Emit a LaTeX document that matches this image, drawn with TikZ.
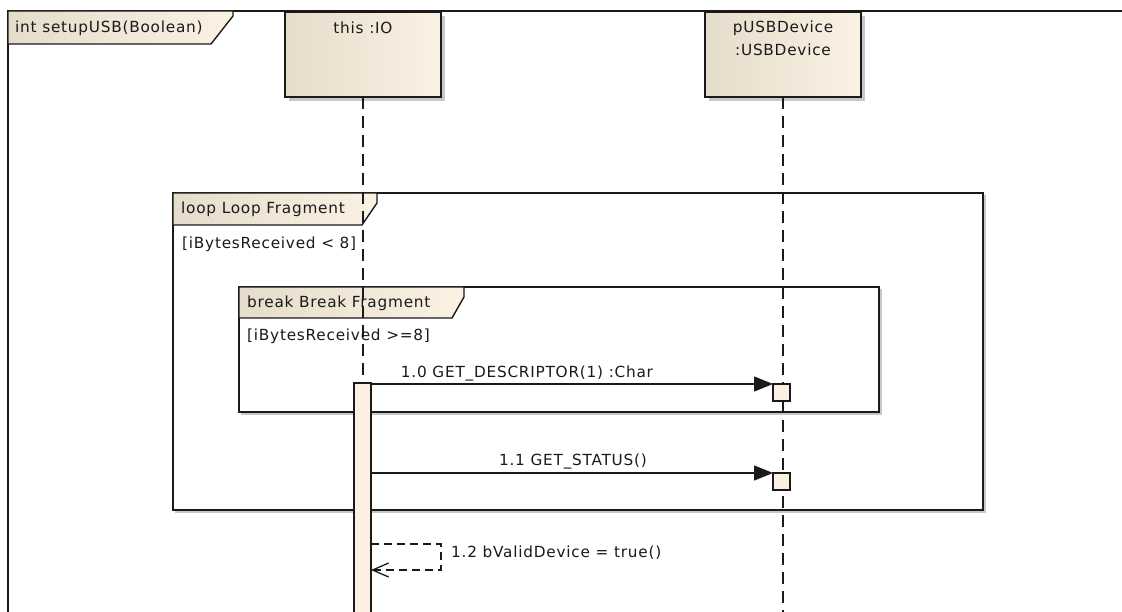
\documentclass[tikz,border=0pt]{standalone}
\usepackage{fontspec}
\setmainfont[LetterSpace=5]{DejaVu Sans}
\usetikzlibrary{arrows.meta}
\definecolor{beigeL}{HTML}{E6DCCB}
\definecolor{beigeR}{HTML}{FBF2E4}
\definecolor{barfill}{HTML}{FBF0E1}
\definecolor{ink}{HTML}{1A1A1A}
\definecolor{shadowgray}{HTML}{C8C8C8}
\begin{document}
\begin{tikzpicture}[x=1pt,y=-1pt,
  txt/.style={font=\fontsize{15.3}{18}\selectfont, text=ink, inner sep=0pt},
  frameline/.style={draw=ink, line width=1.5pt},
  frag/.style={draw=ink, line width=1.7pt, inner sep=0pt, outer sep=0pt},
  tab/.style={draw=ink, line width=1.4pt, left color=beigeL, right color=beigeR},
  head/.style={draw=ink, line width=1.6pt, left color=beigeL, right color=beigeR, inner sep=0pt, outer sep=0pt},
  lifeline/.style={draw=ink, line width=1.7pt, dash pattern=on 12pt off 7pt},
  actbar/.style={draw=ink, line width=1.4pt, fill=barfill, inner sep=0pt, outer sep=0pt},
  sqbox/.style={draw=ink, line width=1.4pt, fill=barfill, inner sep=0pt, outer sep=0pt, minimum size=17pt},
  msg/.style={draw=ink, line width=1.3pt, -{Triangle[length=19pt,width=15pt]}},
  selfmsg/.style={draw=ink, line width=1.3pt, dash pattern=on 8pt off 5pt, -{Straight Barb[length=16pt,width=14pt]}},
  shadowline/.style={draw=shadowgray, line width=1.3pt}
]
\useasboundingbox (0,0) rectangle (1122,612);
\fill[white] (0,0) rectangle (1122,612);

% outer frame
\coordinate (frTL) at (8,11);
\coordinate (frTR) at (1122,11);
\coordinate (frBL) at (8,612);
\draw[frameline] (frTR) -- (frTL) -- (frBL);
\draw[tab] (8,11) -- (233,11) -- (233,16) -- (211,44) -- (8,44) -- cycle;
\node[txt, anchor=west] (frtitle) at (15,28) {int setupUSB(Boolean)};

% loop fragment
\draw[shadowline] (985,195) -- (985,512) -- (175,512);
\node[frag, minimum width=810pt, minimum height=317pt, anchor=north west] (loop) at (173,193) {};
\draw[tab] (173,193) -- (377,193) -- (377,203) -- (362,225) -- (173,225) -- cycle;
\node[txt, anchor=west] (looplbl) at (181,209) {loop Loop Fragment};
\node[txt, anchor=west] (loopguard) at (182,244) {[iBytesReceived < 8]};

% break fragment
\draw[shadowline] (881,289) -- (881,414) -- (241,414);
\node[frag, minimum width=640pt, minimum height=125pt, anchor=north west] (brk) at (239,287) {};
\draw[tab] (239,287) -- (464,287) -- (464,297) -- (452,318) -- (239,318) -- cycle;
\node[txt, anchor=west] (brklbl) at (247,303) {break Break Fragment};
\node[txt, anchor=west] (brkguard) at (247,336) {[iBytesReceived >=8]};

% lifeline heads
\fill[shadowgray] (289,16) rectangle (445,101);
\fill[shadowgray] (709,16) rectangle (865,101);
\node[head, minimum width=156pt, minimum height=85pt, anchor=north west] (io) at (285,12) {};
\node[head, minimum width=156pt, minimum height=85pt, anchor=north west] (dev) at (705,12) {};
\node[txt] (iolbl) at (363,28) {this :IO};
\node[txt] (devlbl1) at (783,28) {pUSBDevice};
\node[txt] (devlbl2) at (783,50) {:USBDevice};

% lifelines
\coordinate (ioend) at (363,612);
\coordinate (devend) at (783,612);
\draw[lifeline] (io.south) -- (ioend);
\draw[lifeline] (dev.south) -- (devend);

% activation bar and execution squares
\node[actbar, minimum width=17pt, minimum height=240pt, anchor=north] (act) at (362.5,383) {};
\node[sqbox, anchor=north west] (sq1) at (773,384) {};
\node[sqbox, anchor=north west] (sq2) at (773,473) {};

% messages
\draw[msg] (act.east |- sq1.north west) -- (sq1.north west);
\node[txt] (m1lbl) at (527,373) {1.0 GET\_DESCRIPTOR(1) :Char};
\draw[msg] (act.east |- sq2.north west) -- (sq2.north west);
\node[txt] (m2lbl) at (573,461) {1.1 GET\_STATUS()};

% self message
\coordinate (selfA) at (441,544);
\coordinate (selfB) at (441,570);
\draw[selfmsg] (act.east |- selfA) -- (selfA) -- (selfB) -- (act.east |- selfB);
\node[txt, anchor=west] (m3lbl) at (451,553) {1.2 bValidDevice = true()};
\end{tikzpicture}
\end{document}
